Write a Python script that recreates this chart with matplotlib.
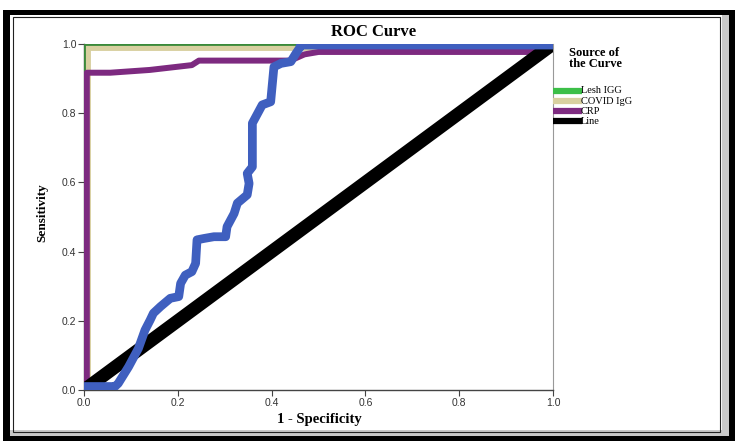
import matplotlib
matplotlib.use("Agg")
import matplotlib.pyplot as plt
from matplotlib.lines import Line2D
from matplotlib.patches import Rectangle

# ---- data ----
lesh_x = [0.0, 0.0, 1.0]
lesh_y = [0.0, 1.0, 1.0]

covid_x = [0.0, 0.0, 1.0]
covid_y = [0.0, 1.0, 1.0]

crp_x = [0.006, 0.006, 0.056, 0.14, 0.23, 0.245, 0.44, 0.47, 0.50, 0.95, 0.99, 1.0]
crp_y = [0.0, 0.917, 0.917, 0.925, 0.939, 0.952, 0.952, 0.97, 0.977, 0.977, 1.0, 1.0]

blue_x = [0.0, 0.066, 0.073, 0.095, 0.116, 0.13, 0.141, 0.148, 0.163, 0.184, 0.202,
          0.206, 0.216, 0.23, 0.238, 0.241, 0.256, 0.277, 0.302, 0.305, 0.32, 0.327,
          0.348, 0.352, 0.348, 0.359, 0.359, 0.38, 0.398, 0.405, 0.42, 0.441, 0.452,
          0.459, 0.462, 1.0]
blue_y = [0.01, 0.01, 0.019, 0.067, 0.12, 0.173, 0.202, 0.222, 0.241, 0.265, 0.27,
          0.308, 0.332, 0.342, 0.366, 0.434, 0.438, 0.443, 0.443, 0.472, 0.51, 0.54,
          0.564, 0.597, 0.626, 0.645, 0.771, 0.824, 0.833, 0.934, 0.944, 0.949, 0.973,
          0.987, 0.997, 0.997]

ref_x = [0.0, 1.0]
ref_y = [0.0, 1.0]

legend_labels = ["Lesh IGG", "COVID IgG", "CRP", "Line"]
legend_colors = ["#3cbf48", "#d8d0a0", "#7d2a80", "#000000"]
tick_vals = [0.0, 0.2, 0.4, 0.6, 0.8, 1.0]
tick_labels = ["0.0", "0.2", "0.4", "0.6", "0.8", "1.0"]

# ---- figure ----
W, H = 735, 441
fig = plt.figure(figsize=(W / 100, H / 100), dpi=100)
fig.patch.set_facecolor("white")

def fx(px):
    return px / W

def fy(py):
    return 1 - py / H

ax = fig.add_axes([fx(84), fy(390), fx(553) - fx(84), fy(44) - fy(390)])
ax.set_xlim(0, 1)
ax.set_ylim(0, 1)

ax.plot(covid_x, covid_y, color="#d8d0a0", lw=10, solid_capstyle="butt", zorder=2)
ax.plot(lesh_x, lesh_y, color="#3a8a3a", lw=2, solid_capstyle="butt", zorder=3)
ax.plot(crp_x, crp_y, color="#7d2a80", lw=4.3, solid_joinstyle="round", zorder=4)
ax.plot(ref_x, ref_y, color="#000000", lw=9.5, solid_capstyle="butt", zorder=5)
ax.plot(blue_x, blue_y, color="#3f5fbf", lw=6.3, solid_joinstyle="round", zorder=6)

for s in ["left", "bottom"]:
    ax.spines[s].set_color("#444444")
    ax.spines[s].set_linewidth(1.0)
ax.spines["right"].set_color("#999999")
ax.spines["right"].set_linewidth(0.8)
ax.spines["top"].set_visible(False)

ax.set_xticks(tick_vals)
ax.set_xticklabels(tick_labels)
ax.set_yticks(tick_vals)
ax.set_yticklabels(tick_labels)
ax.tick_params(axis="both", direction="out", length=4, width=0.8, color="#444444",
               labelsize=7.5, labelcolor="#333333", pad=1.5)
for lab in ax.get_xticklabels() + ax.get_yticklabels():
    lab.set_family("Liberation Sans")

serif = "Liberation Serif"
fig.text(fx(374), fy(32), "ROC Curve", ha="center", va="center", family=serif,
         fontweight="bold", fontsize=12)
fig.text(fx(42), fy(213), "Sensitivity", ha="center", va="center", rotation=90,
         family=serif, fontweight="bold", fontsize=9.5)
fig.text(fx(319), fy(420), "1 - Specificity", ha="center", va="center",
         family=serif, fontweight="bold", fontsize=10.5)

# legend
fig.text(fx(569), fy(53), "Source of", ha="left", va="center", family=serif,
         fontweight="bold", fontsize=9)
fig.text(fx(569), fy(64), "the Curve", ha="left", va="center", family=serif,
         fontweight="bold", fontsize=9)
leg_y = [90.5, 101, 111, 121]
for lab, col, py in zip(legend_labels, legend_colors, leg_y):
    fig.add_artist(Line2D([fx(553), fx(582)], [fy(py), fy(py)], color=col, lw=4.5,
                          solid_capstyle="butt", transform=fig.transFigure))
    fig.text(fx(581), fy(py), lab, ha="left", va="center", family=serif, fontsize=7.5)

# outer frame
def band(x0, y0, x1, y1, color):
    fig.add_artist(Rectangle((fx(x0), fy(y1)), fx(x1) - fx(x0), fy(y0) - fy(y1),
                             transform=fig.transFigure, facecolor=color,
                             edgecolor="none", zorder=10))

band(3, 10, 10, 441, "black")
band(3, 10, 735, 15, "black")
band(729, 10, 735, 441, "black")
band(3, 436, 735, 441, "black")
band(722, 15, 729, 436, "#c8c8c8")
band(10, 430, 729, 436, "#c8c8c8")
fig.add_artist(Rectangle((fx(13), fy(432)), fx(720) - fx(13), fy(17) - fy(432),
                         transform=fig.transFigure, facecolor="none",
                         edgecolor="#222222", lw=0.8, zorder=10))

fig.savefig("out.png", dpi=100, facecolor="white")
